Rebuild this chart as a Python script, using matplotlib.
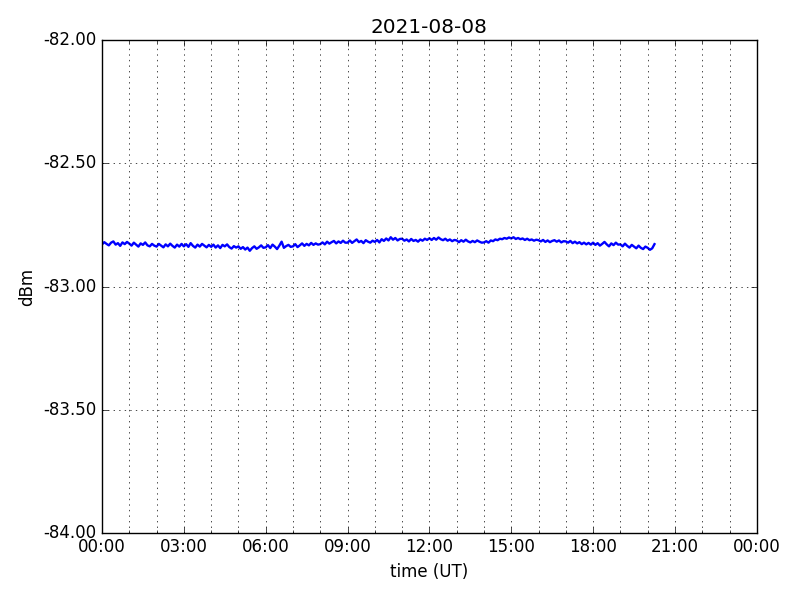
import datetime as dt
import matplotlib
matplotlib.use("Agg")
import matplotlib.pyplot as plt
import matplotlib.dates as mdates
from matplotlib.ticker import FormatStrFormatter

# signal level, one sample every 5 minutes from 00:00 UT
level_dbm = [
    -82.829, -82.820, -82.827, -82.833, -82.822, -82.817, -82.830, -82.824, -82.835, -82.821, -82.828, -82.819,
    -82.826, -82.834, -82.822, -82.830, -82.838, -82.825, -82.831, -82.821, -82.833, -82.837, -82.827, -82.834,
    -82.838, -82.827, -82.834, -82.841, -82.829, -82.837, -82.826, -82.835, -82.842, -82.830, -82.838, -82.827,
    -82.837, -82.828, -82.839, -82.824, -82.835, -82.842, -82.830, -82.838, -82.827, -82.834, -82.841, -82.831,
    -82.839, -82.830, -82.842, -82.833, -82.844, -82.831, -82.837, -82.829, -82.840, -82.846, -82.836, -82.842,
    -82.837, -82.847, -82.840, -82.850, -82.842, -82.855, -82.844, -82.837, -82.847, -82.841, -82.833, -82.843,
    -82.841, -82.832, -82.844, -82.830, -82.838, -82.848, -82.834, -82.818, -82.843, -82.836, -82.831, -82.839,
    -82.837, -82.828, -82.840, -82.833, -82.825, -82.835, -82.827, -82.833, -82.823, -82.831, -82.825, -82.830,
    -82.828, -82.821, -82.829, -82.818, -82.826, -82.820, -82.815, -82.825, -82.817, -82.823, -82.814, -82.822,
    -82.822, -82.813, -82.823, -82.816, -82.809, -82.820, -82.815, -82.824, -82.812, -82.818, -82.822, -82.814,
    -82.819, -82.811, -82.821, -82.808, -82.815, -82.805, -82.813, -82.800, -82.810, -82.803, -82.813, -82.807,
    -82.806, -82.814, -82.809, -82.817, -82.807, -82.815, -82.811, -82.818, -82.809, -82.814, -82.806, -82.811,
    -82.804, -82.811, -82.803, -82.810, -82.801, -82.808, -82.812, -82.806, -82.814, -82.809, -82.816, -82.811,
    -82.813, -82.820, -82.812, -82.818, -82.810, -82.817, -82.821, -82.815, -82.820, -82.813, -82.818, -82.822,
    -82.821, -82.816, -82.822, -82.813, -82.816, -82.809, -82.812, -82.806, -82.808, -82.803, -82.806, -82.801,
    -82.805, -82.800, -82.807, -82.803, -82.808, -82.805, -82.811, -82.806, -82.812, -82.809, -82.814, -82.810,
    -82.812, -82.817, -82.811, -82.819, -82.813, -82.820, -82.815, -82.812, -82.818, -82.813, -82.821, -82.816,
    -82.817, -82.822, -82.815, -82.824, -82.818, -82.825, -82.820, -82.828, -82.822, -82.829, -82.823, -82.830,
    -82.822, -82.831, -82.824, -82.834, -82.827, -82.819, -82.829, -82.837, -82.825, -82.832, -82.822, -82.830,
    -82.829, -82.837, -82.826, -82.835, -82.842, -82.831, -82.838, -82.845, -82.834, -82.843, -82.848, -82.838,
    -82.843, -82.851, -82.845, -82.828,
]
day = dt.datetime(2021, 8, 8)
times = [day + dt.timedelta(minutes=5 * i) for i in range(len(level_dbm))]

plt.style.use("classic")
fig = plt.figure(figsize=(8, 6), dpi=100, facecolor="white")
ax = fig.add_axes([0.1275, 0.112, 0.8185, 0.821])

ax.plot(times, level_dbm, color="blue", lw=1.7)

ax.set_xlim(day, day + dt.timedelta(days=1))
ax.set_ylim(-84.0, -82.0)
ax.xaxis.set_major_locator(mdates.HourLocator(byhour=range(0, 24, 3)))
ax.xaxis.set_minor_locator(mdates.HourLocator())
ax.xaxis.set_major_formatter(mdates.DateFormatter("%H:%M"))
ax.yaxis.set_major_locator(plt.MultipleLocator(0.5))
ax.yaxis.set_major_formatter(FormatStrFormatter("%.2f"))

ax.grid(True, which="major", color="black", linestyle=":", linewidth=0.5)
ax.grid(True, which="minor", axis="x", color="black", linestyle=":", linewidth=0.5)

ax.set_title("2021-08-08")
ax.set_xlabel("time (UT)")
ax.set_ylabel("dBm")

fig.savefig("out.png", dpi=100, facecolor="white")
